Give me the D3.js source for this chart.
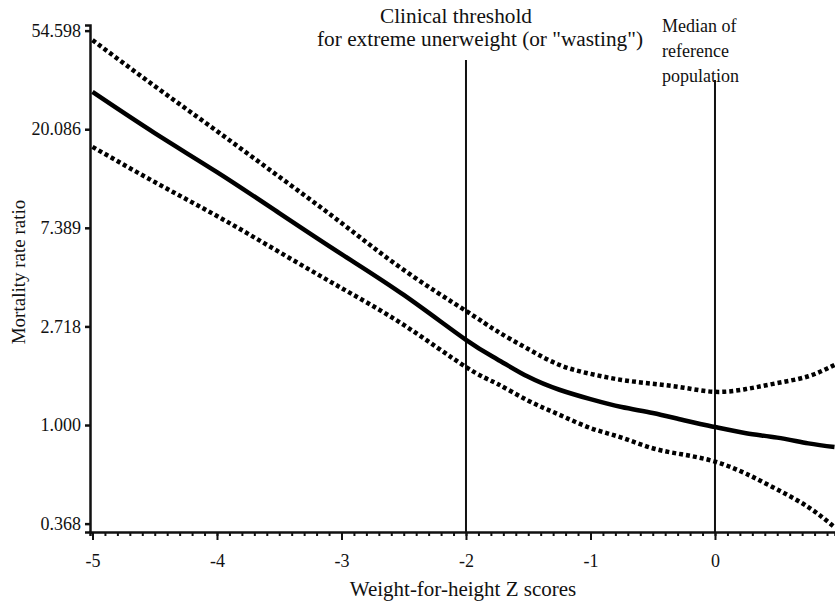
<!DOCTYPE html>
<html>
<head>
<meta charset="utf-8">
<script src="https://cdn.jsdelivr.net/npm/d3@7"></script>
<style>
  html, body { margin: 0; padding: 0; background: #fff; }
  svg { display: block; }
</style>
</head>
<body>
<svg id="chart" width="835" height="605"></svg>
<script>
// ---- Data ----
const zScores = [-5, -4.5, -4, -3.5, -3, -2.5, -2, -1.75, -1.5, -1.25, -1, -0.75, -0.5, -0.25, 0, 0.25, 0.5, 0.75, 0.96];
const rateRatio = [29.3, 19.3, 13.0, 8.58, 5.66, 3.74, 2.37, 1.95, 1.63, 1.43, 1.30, 1.20, 1.13, 1.05, 0.98, 0.92, 0.88, 0.83, 0.80];
const upperCI  = [49.6, 31.1, 19.7, 12.4, 7.76, 4.82, 3.18, 2.59, 2.16, 1.84, 1.68, 1.58, 1.52, 1.46, 1.40, 1.44, 1.53, 1.64, 1.84];
const lowerCI  = [16.8, 11.75, 8.33, 5.78, 4.01, 2.76, 1.80, 1.52, 1.28, 1.11, 0.97, 0.88, 0.79, 0.74, 0.69, 0.61, 0.52, 0.435, 0.355];

const xTickValues = [-5, -4, -3, -2, -1, 0];
const xTickLabels = ["-5", "-4", "-3", "-2", "-1", "0"];
const yTickValues = [Math.exp(-1), 1, Math.exp(1), Math.exp(2), Math.exp(3), Math.exp(4)];
const yTickLabels = ["0.368", "1.000", "2.718", "7.389", "20.086", "54.598"];

const refLines = [-2, 0];
const thresholdText = ["Clinical threshold", "for extreme unerweight (or \"wasting\")"];
const medianText = ["Median of", "reference", "population"];
const xTitle = "Weight-for-height Z scores";
const yTitle = "Mortality rate ratio";

// ---- Layout ----
const FONT = "'Liberation Serif', Tinos, 'Times New Roman', Times, 'DejaVu Serif', 'Noto Serif', serif";
const INK = "#111";
const svg = d3.select("#chart");
const plotLeft = 90, plotRight = 835, plotTop = 25, plotBottom = 532;

const x = d3.scaleLinear().domain([-5.02, 0.964]).range([plotLeft, plotRight]);
const y = d3.scaleLog().domain([Math.exp(-1.085), Math.exp(4.057)]).range([plotBottom, plotTop]);

// Reference vertical lines
const refTops = [60, 80];
svg.selectAll("line.ref").data(refLines).enter().append("line")
  .attr("class", "ref")
  .attr("x1", d => x(d)).attr("x2", d => x(d))
  .attr("y1", (d, i) => refTops[i]).attr("y2", plotBottom)
  .attr("stroke", INK).attr("stroke-width", 2);

// X axis: minor ticks
const minorTicks = d3.range(-50, 10).map(i => i / 10);
svg.append("g")
  .attr("transform", `translate(0,${plotBottom})`)
  .call(d3.axisBottom(x).tickValues(minorTicks).tickSize(4).tickFormat(""))
  .call(g => g.selectAll("line").attr("stroke", INK).attr("stroke-width", 2))
  .call(g => g.select(".domain").attr("stroke", INK).attr("stroke-width", 2.5));

// X axis: major ticks and labels
svg.append("g")
  .attr("transform", `translate(0,${plotBottom})`)
  .call(d3.axisBottom(x).tickValues(xTickValues).tickSize(8).tickPadding(14)
        .tickFormat((d, i) => xTickLabels[i]))
  .call(g => g.attr("font-family", FONT).attr("font-size", 18))
  .call(g => g.select(".domain").remove())
  .call(g => g.selectAll("line").attr("stroke", INK).attr("stroke-width", 2))
  .call(g => g.selectAll("text").attr("fill", INK).style("font-family", FONT).style("font-size", "18px"));

// Y axis
svg.append("g")
  .attr("transform", `translate(${plotLeft},0)`)
  .call(d3.axisLeft(y).tickValues(yTickValues).tickSize(5).tickPadding(4)
        .tickFormat((d, i) => yTickLabels[i]))
  .call(g => g.attr("font-family", FONT).attr("font-size", 18))
  .call(g => g.select(".domain").attr("stroke", INK).attr("stroke-width", 2.5))
  .call(g => g.selectAll("line").attr("stroke", INK).attr("stroke-width", 2.5))
  .call(g => g.selectAll("text").attr("fill", INK).style("font-family", FONT).style("font-size", "18px"));

// Curves
const series = [
  { values: upperCI, dashed: true },
  { values: lowerCI, dashed: true },
  { values: rateRatio, dashed: false }
];
const line = d3.line()
  .x(d => x(d[0])).y(d => y(d[1]))
  .curve(d3.curveNatural);

svg.selectAll("path.curve").data(series).enter().append("path")
  .attr("class", "curve")
  .attr("d", s => line(zScores.map((z, i) => [z, s.values[i]])))
  .attr("fill", "none")
  .attr("stroke", "#000")
  .attr("stroke-width", 4.5)
  .attr("stroke-dasharray", s => s.dashed ? "4 3" : null);

// Annotations
const thrX = [380, 317], thrY = [23, 45.5], thrLen = [152, 326];
svg.selectAll("text.thr").data(thresholdText).enter().append("text")
  .attr("class", "thr")
  .attr("x", (d, i) => thrX[i]).attr("y", (d, i) => thrY[i])
  .attr("textLength", (d, i) => thrLen[i]).attr("lengthAdjust", "spacingAndGlyphs")
  .attr("fill", INK).style("font-family", FONT).style("font-size", "20px")
  .text(d => d);

svg.selectAll("text.med").data(medianText).enter().append("text")
  .attr("class", "med")
  .attr("x", 662).attr("y", (d, i) => 32 + i * 25)
  .attr("fill", INK).style("font-family", FONT).style("font-size", "18px")
  .text(d => d);

// Axis titles
svg.append("text")
  .attr("x", 463).attr("y", 596)
  .attr("text-anchor", "middle")
  .attr("fill", INK).style("font-family", FONT).style("font-size", "21px")
  .text(xTitle);

svg.append("text")
  .attr("transform", "translate(25,272) rotate(-90)")
  .attr("text-anchor", "middle")
  .attr("fill", INK).style("font-family", FONT).style("font-size", "19px")
  .text(yTitle);
</script>
</body>
</html>
